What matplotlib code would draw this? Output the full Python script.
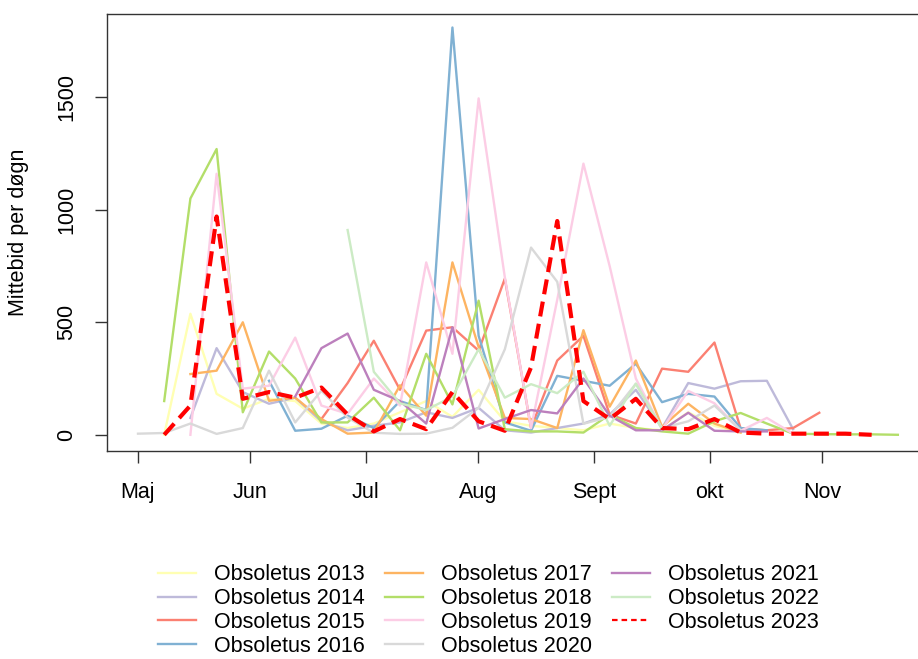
import numpy as np
import matplotlib
matplotlib.use('Agg')
import matplotlib.pyplot as plt
from matplotlib.lines import Line2D

nan = np.nan

# week numbers (one point per week)
weeks = np.arange(18, 48)

month_ticks = [18.0, 22.27, 26.7, 30.98, 35.4, 39.82, 44.1]
month_labels = ['Maj', 'Jun', 'Jul', 'Aug', 'Sept', 'okt', 'Nov']

y2013 = [nan, 0, 538, 182, 116, 160, 150, 50, 30, 50, 100, 150, 80, 200, 60, 40, 30, 20, 50, 30, 20, 100, 40, 10, nan, nan, nan, nan, nan, nan]
y2014 = [nan, nan, 75, 385, 190, 138, 165, 60, 20, 40, 55, 100, 75, 120, 20, 10, 30, 50, 90, 200, 30, 230, 205, 238, 240, 25, nan, nan, nan, nan]
y2015 = [nan, nan, nan, nan, nan, nan, nan, 70, 230, 418, 200, 463, 478, 374, 694, 30, 330, 440, 90, 50, 294, 280, 410, 28, 20, 30, 98, nan, nan, nan]
y2016 = [nan, nan, nan, nan, nan, 240, 18, 27, 85, 30, 150, 110, 1810, 440, 55, 18, 262, 240, 218, 316, 145, 182, 170, 30, 20, nan, nan, nan, nan, nan]
y2017 = [nan, nan, 270, 285, 500, 151, 165, 70, 5, 10, 220, 85, 766, 390, 75, 70, 30, 465, 125, 330, 35, 138, 50, 10, nan, nan, nan, nan, nan, nan]
y2018 = [nan, 150, 1050, 1270, 100, 370, 250, 55, 55, 165, 20, 360, 135, 596, 25, 15, 15, 10, 90, 30, 15, 5, 60, 97, 50, 5, 3, 2, 2, 0]
y2019 = [nan, nan, 0, 1160, 205, 218, 432, 130, 93, 250, 130, 766, 360, 1495, 700, 30, 600, 1205, 750, 250, 25, 195, 140, 18, 75, 5, nan, nan, nan, nan]
y2020 = [5, 8, 50, 4, 30, 285, 55, 196, 76, 9, 4, 5, 31, 120, 380, 832, 680, 49, 80, 227, 30, 60, 130, 20, nan, nan, nan, nan, nan, nan]
y2021 = [nan, nan, nan, nan, nan, nan, 170, 385, 450, 200, 150, 50, 478, 28, 70, 110, 95, 250, 85, 20, 20, 98, 18, 15, 15, nan, nan, nan, nan, nan]
y2022 = [nan, nan, nan, nan, nan, nan, nan, nan, 910, 280, 140, 110, 170, 380, 165, 225, 185, 280, 40, 227, 25, nan, nan, nan, nan, nan, nan, nan, nan, nan]
y2023 = [nan, 0, 130, 970, 160, 190, 165, 210, 90, 15, 70, 25, 190, 60, 18, 300, 950, 150, 70, 160, 30, 25, 70, 10, 5, 5, 5, 5, 0, nan]

series = [y2013, y2014, y2015, y2016, y2017, y2018, y2019, y2020, y2021, y2022]
labels = ['Obsoletus %d' % yr for yr in range(2013, 2024)]
colors = ['#FFFFB3', '#BEBADA', '#FB8072', '#80B1D3', '#FDB462', '#B3DE69',
          '#FCCDE5', '#D9D9D9', '#BC80BD', '#CCEBC5']

plt.rcParams['font.family'] = ['Liberation Sans', 'DejaVu Sans']
plt.rcParams['font.size'] = 15.5

fig = plt.figure(figsize=(9.18, 6.59), dpi=100)
ax = fig.add_axes([107 / 918, (659 - 451) / 659, 821 / 918, 437 / 659])

for ys, c in zip(series, colors):
    ax.plot(weeks, ys, color=c, linewidth=1.7)
ax.plot(weeks, y2023, color='red', linewidth=3.0, dashes=(3.6, 1.8))

ax.set_xlim(16.817, 48.15)
ax.set_ylim(-72, 1870)
ax.set_xticks(month_ticks)
ax.set_xticklabels(month_labels)
ax.set_yticks([0, 500, 1000, 1500])
ax.tick_params(axis='y', labelrotation=90, length=8.5, pad=13, width=1, color='#333333')
ax.tick_params(axis='x', length=8.5, pad=14, width=1, color='#333333')
for lab in ax.get_yticklabels():
    lab.set_va('center')
for s in ax.spines.values():
    s.set_color('#333333')
    s.set_linewidth(1.0)

ax.set_ylabel('Mittebid per døgn')
ax.yaxis.set_label_coords((29 - 107) / 821, 0.5)

handles = [Line2D([], [], color=c, linewidth=1.7) for c in colors]
handles.append(Line2D([], [], color='red', linewidth=1.6, dashes=(2.5, 1.8)))
fig.legend(handles, labels, ncol=3, frameon=False, loc='upper center',
           bbox_to_anchor=(0.532, 0.173), handlelength=1.77, handletextpad=0.84,
           columnspacing=0.93, labelspacing=0.13, borderpad=0.4)

plt.savefig('out.png', dpi=100)
